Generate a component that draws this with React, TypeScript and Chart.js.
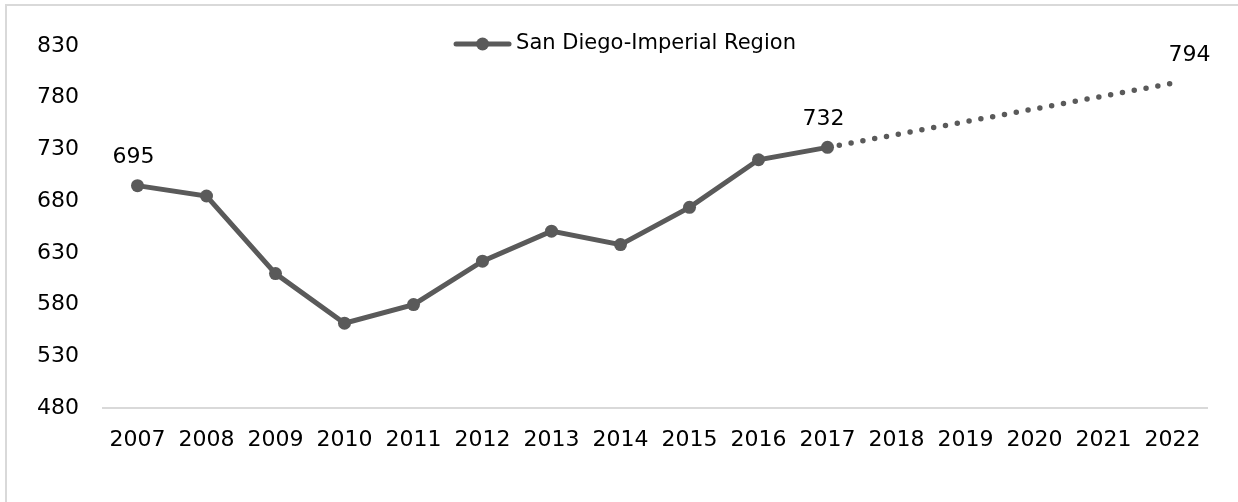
import React, { useEffect, useRef } from "react";
import { Chart, registerables } from "chart.js";

Chart.register(...registerables);

const years = ["2007", "2008", "2009", "2010", "2011", "2012", "2013", "2014", "2015", "2016", "2017", "2018", "2019", "2020", "2021", "2022"];
const actualValues = [695, 685, 610, 562, 580, 622, 651, 638, 674, 720, 732, null, null, null, null, null];
const projectedValues = [null, null, null, null, null, null, null, null, null, null, 732, null, null, null, null, 794];
const actualLabelIndexes = [0, 10];
const projectedLabelIndexes = [15];
const seriesName = "San Diego-Imperial Region";
const yMin = 480;
const yMax = 830;
const yStep = 50;

const LINE_COLOR = "#5a5a5a";
const FONT_FAMILY = "'DejaVu Sans', sans-serif";
const FONT_SIZE = 22;

const labelPlugin = {
  id: "valueLabels",
  afterDatasetsDraw(chart: any) {
    const ctx = chart.ctx;
    ctx.save();
    ctx.font = `${FONT_SIZE}px ${FONT_FAMILY}`;
    ctx.fillStyle = "#000";
    ctx.textAlign = "center";
    ctx.textBaseline = "middle";
    const sets: [number, number[], number][] = [
      [0, actualLabelIndexes, -4],
      [1, projectedLabelIndexes, 17],
    ];
    sets.forEach(([di, idxs, dx]) => {
      const meta = chart.getDatasetMeta(di);
      const data = chart.data.datasets[di].data;
      idxs.forEach((i) => {
        const el = meta.data[i];
        if (!el || data[i] == null) return;
        ctx.fillText(String(data[i]), el.x + dx, el.y - 28);
      });
    });
    ctx.restore();
  },
};

const legendPlugin = {
  id: "customLegend",
  afterDraw(chart: any) {
    const ctx = chart.ctx;
    ctx.save();
    ctx.font = `21px ${FONT_FAMILY}`;
    const textW = ctx.measureText(seriesName).width;
    const markerW = 57;
    const gap = 5;
    const total = markerW + gap + textW;
    const cx = chart.width / 2 + 6;
    const x0 = cx - total / 2;
    const y = 44;
    ctx.strokeStyle = LINE_COLOR;
    ctx.lineWidth = 5;
    ctx.lineCap = "round";
    ctx.beginPath();
    ctx.moveTo(x0 + 2, y);
    ctx.lineTo(x0 + markerW - 2, y);
    ctx.stroke();
    ctx.fillStyle = LINE_COLOR;
    ctx.beginPath();
    ctx.arc(x0 + markerW / 2, y, 6.5, 0, Math.PI * 2);
    ctx.fill();
    ctx.fillStyle = "#000";
    ctx.textAlign = "left";
    ctx.textBaseline = "middle";
    ctx.fillText(seriesName, x0 + markerW + gap, y);
    ctx.restore();
  },
};

export default function App() {
  const canvasRef = useRef<HTMLCanvasElement | null>(null);

  useEffect(() => {
    if (!canvasRef.current) return;
    const chart = new Chart(canvasRef.current, {
      type: "line",
      data: {
        labels: years,
        datasets: [
          {
            label: seriesName,
            data: actualValues,
            borderColor: LINE_COLOR,
            backgroundColor: LINE_COLOR,
            borderWidth: 5,
            pointRadius: 6.5,
            pointHoverRadius: 6.5,
            pointBackgroundColor: LINE_COLOR,
            pointBorderWidth: 0,
            spanGaps: false,
            tension: 0,
            order: 1,
          },
          {
            label: "Projection",
            data: projectedValues,
            borderColor: LINE_COLOR,
            backgroundColor: LINE_COLOR,
            borderWidth: 5.5,
            borderDash: [0, 12],
            borderCapStyle: "round",
            pointRadius: 0,
            spanGaps: true,
            tension: 0,
            order: 2,
          },
        ],
      },
      options: {
        responsive: false,
        animation: false,
        devicePixelRatio: 1,
        layout: { padding: { top: 46, right: 31, left: 0, bottom: 0 } },
        plugins: {
          legend: { display: false },
          title: { display: false },
          tooltip: { enabled: false },
        },
        scales: {
          x: {
            offset: true,
            grid: { display: false, drawTicks: false },
            border: { display: true, color: "#d9d9d9", width: 2 },
            ticks: {
              color: "#000",
              font: { family: FONT_FAMILY, size: FONT_SIZE },
              padding: 19,
              maxRotation: 0,
              autoSkip: false,
            },
            afterFit(scale: any) {
              scale.height = 94;
            },
          },
          y: {
            min: yMin,
            max: yMax,
            grid: { display: false, drawTicks: false },
            border: { display: false },
            ticks: {
              stepSize: yStep,
              color: "#000",
              font: { family: FONT_FAMILY, size: FONT_SIZE },
              padding: 24,
            },
            afterFit(scale: any) {
              scale.width = 103;
            },
          },
        },
      },
      plugins: [labelPlugin, legendPlugin],
    } as any);
    return () => chart.destroy();
  }, []);

  return (
    <div
      style={{
        position: "absolute",
        left: 0,
        top: 0,
        width: 1238,
        height: 502,
        overflow: "hidden",
        background: "#fff",
      }}
    >
      <div
        style={{
          position: "absolute",
          left: 5,
          top: 4,
          width: 1400,
          height: 700,
          borderLeft: "2px solid #d9d9d9",
          borderTop: "2px solid #d9d9d9",
        }}
      />
      <canvas
        ref={canvasRef}
        width={1238}
        height={502}
        style={{ position: "absolute", left: 0, top: 0, width: 1238, height: 502 }}
      />
    </div>
  );
}
